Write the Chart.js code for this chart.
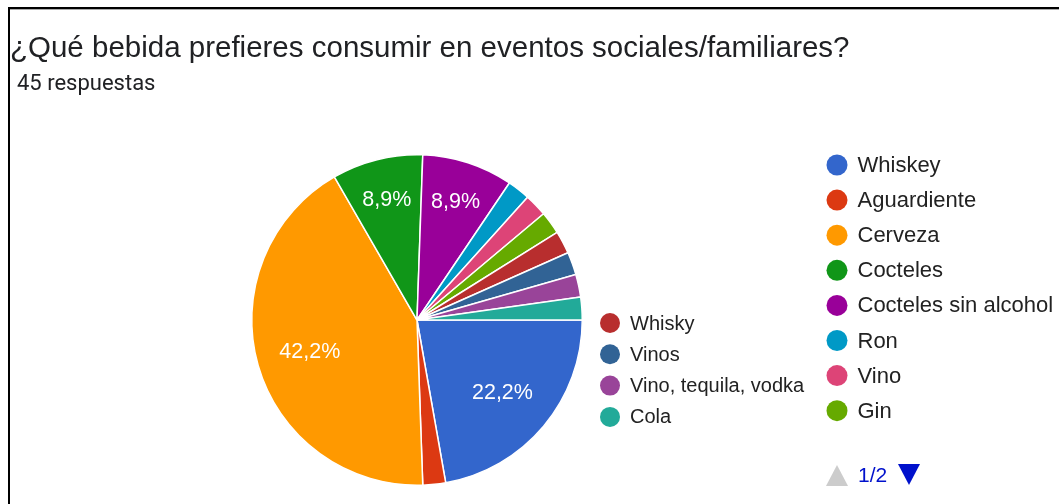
<!DOCTYPE html>
<html lang="es">
<head>
<meta charset="utf-8">
<title>Bebida preferida en eventos</title>
<script src="https://cdn.jsdelivr.net/npm/chart.js@4.4.1/dist/chart.umd.min.js"></script>
<style>
  html, body { margin: 0; padding: 0; background: #fff; }
  #wrap { position: relative; width: 1059px; height: 504px; }
</style>
</head>
<body>
<div id="wrap"><canvas id="chartBebidas"></canvas></div>
<script>
// Datos de la encuesta
const pregunta = '¿Qué bebida prefieres consumir en eventos sociales/familiares?';
const totalRespuestas = 45;
const bebidas = ['Whiskey', 'Aguardiente', 'Cerveza', 'Cocteles', 'Cocteles sin alcohol', 'Ron', 'Vino', 'Gin',
                 'Whisky', 'Vinos', 'Vino, tequila, vodka', 'Cola'];
const respuestas = [10, 1, 19, 4, 4, 1, 1, 1, 1, 1, 1, 1];
const colores = ['#3366cc', '#dc3912', '#ff9900', '#109618', '#990099', '#0099c6', '#dd4477', '#66aa00',
                 '#b82e2e', '#316395', '#994499', '#22aa99'];

const pct = v => (v / totalRespuestas * 100).toFixed(1).replace('.', ',') + '%';

// Porcentajes dentro de las porciones grandes
const etiquetasPie = {
  id: 'etiquetasPie',
  afterDatasetsDraw(chart) {
    const ctx = chart.ctx;
    const meta = chart.getDatasetMeta(0);
    ctx.save();
    ctx.fillStyle = '#ffffff';
    ctx.font = '21.5px "Liberation Sans", Arial, sans-serif';
    ctx.textAlign = 'center';
    ctx.textBaseline = 'middle';
    meta.data.forEach((arc, i) => {
      const v = respuestas[i];
      if (v / totalRespuestas < 0.05) return;
      const p = arc.getProps(['x', 'y', 'startAngle', 'endAngle', 'outerRadius']);
      const mid = (p.startAngle + p.endAngle) / 2;
      const frac = (p.endAngle - p.startAngle) > Math.PI / 3 ? 0.675 : 0.755;
      const r = p.outerRadius * frac;
      ctx.fillText(pct(v), p.x + Math.cos(mid) * r, p.y + Math.sin(mid) * r + 1);
    });
    ctx.restore();
  }
};

// Marco, título y leyendas
const marco = {
  id: 'marco',
  afterDraw(chart) {
    const ctx = chart.ctx;
    ctx.save();
    // borde superior e izquierdo
    ctx.fillStyle = '#000';
    ctx.fillRect(8, 7, 1051, 2);
    ctx.fillRect(8, 7, 2, 497);
    ctx.fillStyle = '#aaa';
    ctx.fillRect(10, 9, 1049, 1);

    ctx.fillStyle = '#202124';
    ctx.textBaseline = 'alphabetic';
    ctx.textAlign = 'left';
    ctx.font = '29.5px "Liberation Sans", Arial, sans-serif';
    ctx.fillText(pregunta, 10, 57);
    ctx.font = '22px Roboto, sans-serif';
    ctx.fillText(totalRespuestas + ' respuestas', 17, 90);

    const fila = (x, y, r, color, texto, size) => {
      ctx.fillStyle = color;
      ctx.beginPath();
      ctx.arc(x, y, r, 0, Math.PI * 2);
      ctx.fill();
      ctx.fillStyle = '#222';
      ctx.font = size + 'px "Liberation Sans", Arial, sans-serif';
      ctx.textBaseline = 'middle';
      ctx.fillText(texto, x + r + 10, y + 1);
    };

    // leyenda principal (página 1)
    for (let i = 0; i < 8; i++) {
      fila(837, 165 + i * 35.1, 10.5, colores[i], bebidas[i], 22);
    }
    // resto de categorías
    for (let i = 8; i < bebidas.length; i++) {
      fila(610, 323 + (i - 8) * 31.3, 10, colores[i], bebidas[i], 20);
    }

    // paginación
    ctx.fillStyle = '#cccccc';
    ctx.beginPath();
    ctx.moveTo(837, 465); ctx.lineTo(848, 486); ctx.lineTo(826, 486); ctx.closePath();
    ctx.fill();
    ctx.fillStyle = '#0011cc';
    ctx.beginPath();
    ctx.moveTo(898, 464); ctx.lineTo(920, 464); ctx.lineTo(909, 485); ctx.closePath();
    ctx.fill();
    ctx.font = '21px "Liberation Sans", Arial, sans-serif';
    ctx.textBaseline = 'middle';
    ctx.fillText('1/2', 858, 476);
    ctx.restore();
  }
};

new Chart(document.getElementById('chartBebidas'), {
  type: 'pie',
  data: {
    labels: bebidas,
    datasets: [{
      data: respuestas,
      backgroundColor: colores,
      borderColor: '#ffffff',
      borderWidth: 1.5
    }]
  },
  options: {
    responsive: true,
    maintainAspectRatio: false,
    animation: false,
    rotation: 90,
    layout: { padding: { left: 251, top: 154, right: 476, bottom: 18 } },
    plugins: {
      legend: { display: false },
      tooltip: { enabled: false }
    },
    events: []
  },
  plugins: [etiquetasPie, marco]
});
</script>
</body>
</html>
